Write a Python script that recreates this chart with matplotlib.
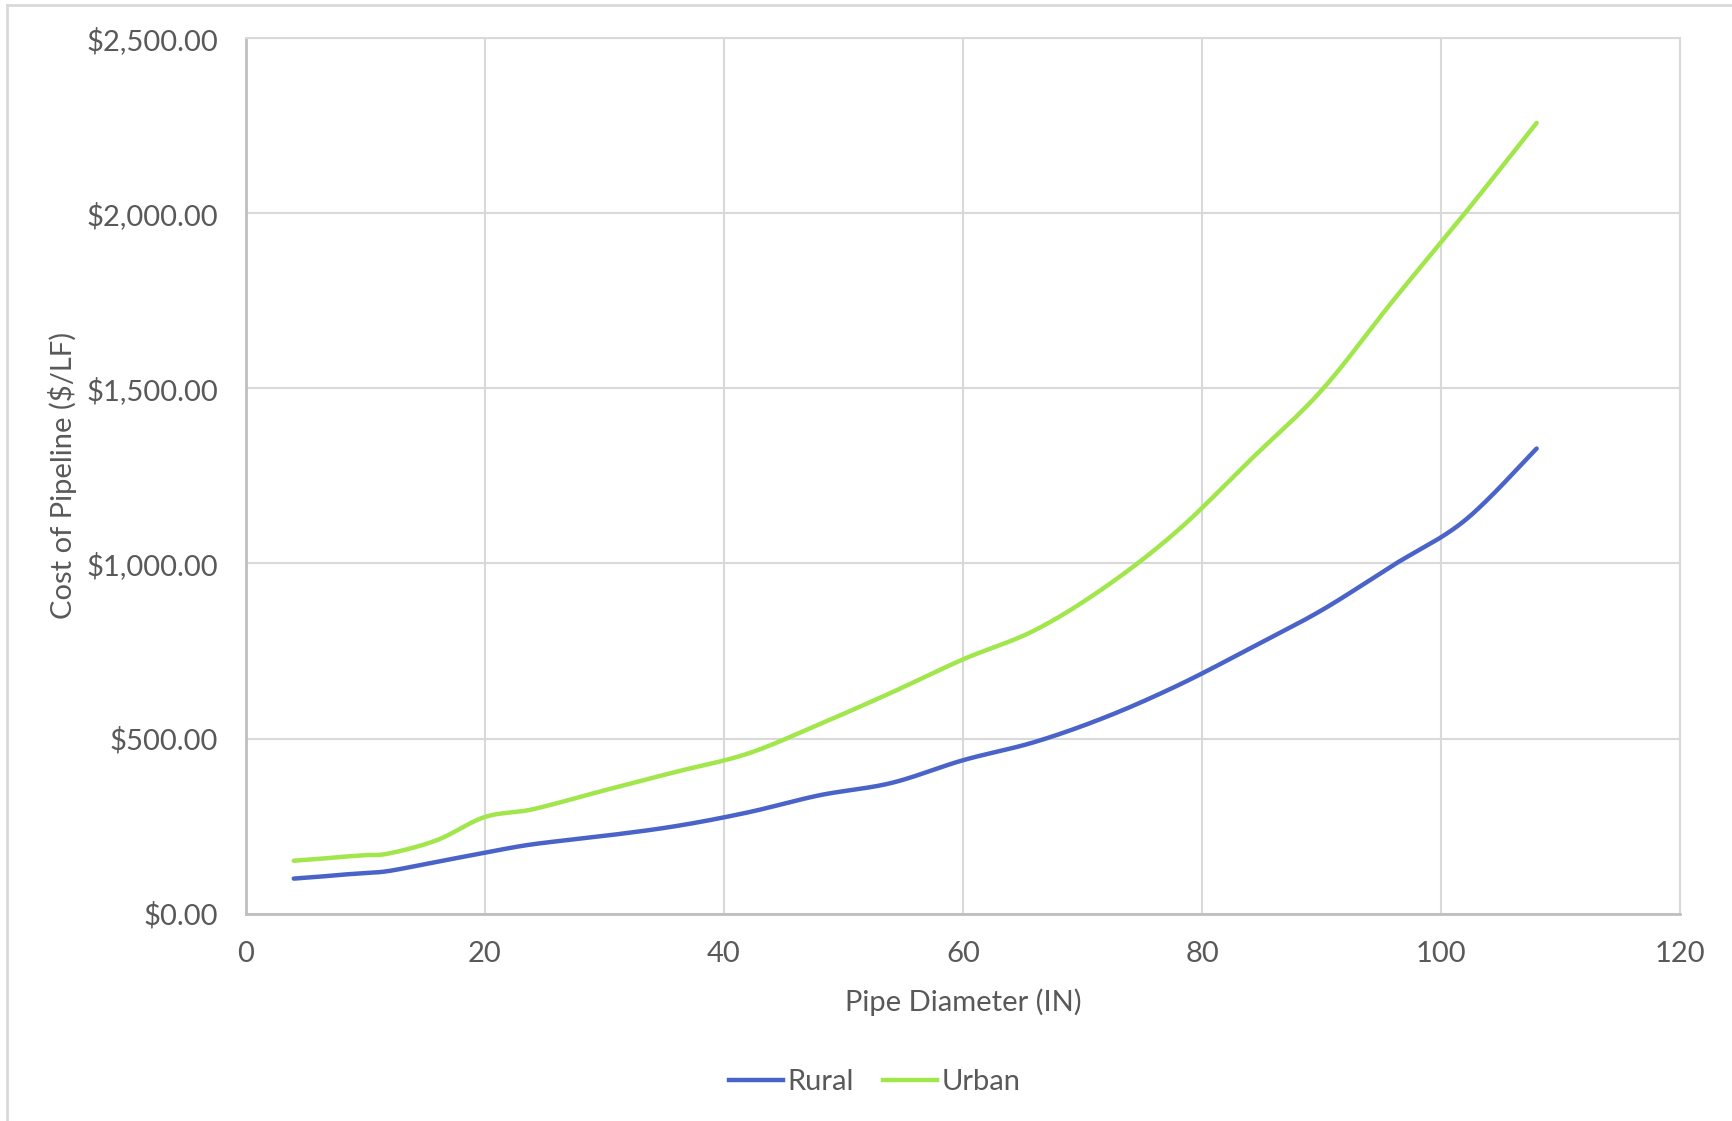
import numpy as np
import matplotlib
matplotlib.use("Agg")
import matplotlib.pyplot as plt
from matplotlib.ticker import FuncFormatter
from matplotlib.lines import Line2D

# pipe diameters (in) and cost per linear foot
diameter = [4, 6, 8, 10, 12, 16, 20, 24, 30, 36, 42, 48, 54, 60, 66, 72, 78, 84, 90, 96, 102, 108]
rural = [100, 105, 111, 116, 122, 148, 174, 198, 222, 250, 289, 338, 373, 438, 490, 562, 652, 757, 866, 995, 1123, 1328]
urban = [151, 156, 162, 167, 172, 210, 276, 298, 352, 405, 457, 541, 631, 726, 809, 935, 1095, 1294, 1494, 1751, 2000, 2258]

series_names = ["Rural", "Urban"]
series_colors = ["#4A63C9", "#A1E64B"]


def smooth(x, y, n=30):
    # catmull-rom, roughly what excel does for "smoothed line"
    x = np.asarray(x, float)
    y = np.asarray(y, float)
    px = np.concatenate([[x[0]], x, [x[-1]]])
    py = np.concatenate([[y[0]], y, [y[-1]]])
    xs, ys = [], []
    t = np.linspace(0, 1, n, endpoint=False)
    for i in range(1, len(px) - 2):
        p0, p1, p2, p3 = [np.array([px[j], py[j]]) for j in range(i - 1, i + 3)]
        c1 = p1 + (p2 - p0) / 6.0
        c2 = p2 - (p3 - p1) / 6.0
        pts = ((1 - t) ** 3)[:, None] * p1 + (3 * (1 - t) ** 2 * t)[:, None] * c1 \
            + (3 * (1 - t) * t ** 2)[:, None] * c2 + (t ** 3)[:, None] * p2
        xs.append(pts[:, 0])
        ys.append(pts[:, 1])
    xs.append([x[-1]])
    ys.append([y[-1]])
    return np.concatenate(xs), np.concatenate(ys)


plt.rcParams['font.family'] = ['Lato', 'DejaVu Sans']
txt = "#595959"
fs = 21

fig = plt.figure(figsize=(17.32, 11.21), dpi=100)
ax = fig.add_axes([0.142, 0.185, 0.828, 0.781])

for vals, name, col in zip([rural, urban], series_names, series_colors):
    sx, sy = smooth(diameter, vals)
    ax.plot(sx, sy, color=col, lw=3.2, solid_capstyle='round', label=name)

ax.set_xlim(0, 120)
ax.set_ylim(0, 2500)
ax.set_xticks(range(0, 121, 20))
ax.set_yticks(range(0, 2501, 500))
ax.yaxis.set_major_formatter(FuncFormatter(lambda v, p: "${:,.2f}".format(v)))
ax.grid(True, color="#D9D9D9", lw=1.5)
ax.set_axisbelow(True)
ax.tick_params(length=0, labelsize=fs, colors=txt)
ax.tick_params(axis='x', pad=20)
ax.tick_params(axis='y', pad=20)

for s in ['top', 'right']:
    ax.spines[s].set_color("#D9D9D9")
    ax.spines[s].set_linewidth(1.5)
for s in ['left', 'bottom']:
    ax.spines[s].set_color("#BFBFBF")
    ax.spines[s].set_linewidth(2)

ax.set_xlabel("Pipe Diameter (IN)", fontsize=fs, color=txt, labelpad=15)
ax.set_ylabel("Cost of Pipeline ($/LF)", fontsize=fs, color=txt)
ax.yaxis.set_label_coords(-0.118, 0.5)

handles = [Line2D([], [], color=c, lw=3.2) for c in series_colors]
fig.legend(handles, series_names, loc='center', bbox_to_anchor=(0.505, 0.0345),
           ncol=2, frameon=False, fontsize=fs, labelcolor=txt,
           handlelength=1.85, handletextpad=0.15, columnspacing=1.0)

# outer chart border (only left/top visible in the original crop)
fig.add_artist(Line2D([0.0042, 0.0042], [0, 0.9955], color="#D9D9D9", lw=2, transform=fig.transFigure))
fig.add_artist(Line2D([0.0042, 1], [0.9955, 0.9955], color="#D9D9D9", lw=2, transform=fig.transFigure))

fig.savefig("out.png", dpi=100, facecolor="white")
